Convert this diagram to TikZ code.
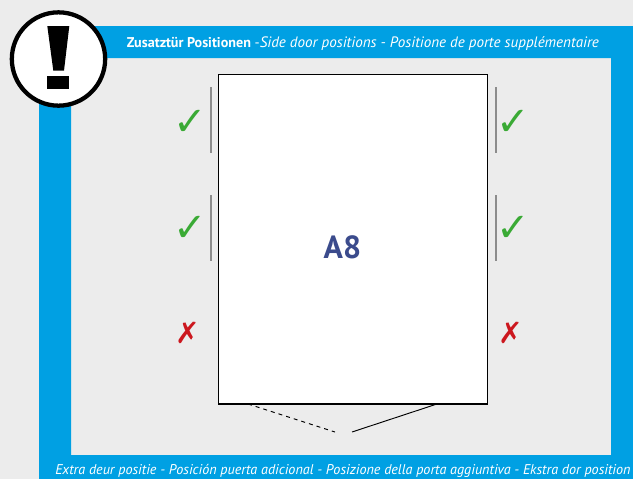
\documentclass[tikz,border=0pt]{standalone}
\usepackage{fontspec}
\setmainfont{PT Sans}
\newfontfamily\symfont{DejaVu Sans}
\usetikzlibrary{positioning,calc}
\definecolor{pagegray}{RGB}{236,236,236}
\definecolor{framecyan}{RGB}{0,160,227}
\definecolor{okgreen}{RGB}{58,170,53}
\definecolor{nored}{RGB}{204,23,30}
\definecolor{typeblue}{RGB}{59,75,140}
\definecolor{barshade}{RGB}{140,140,140}
\tikzset{
  doorbox/.style = {rectangle, draw, fill = white, line width = 0.9pt,
                    minimum width = 201.5pt, minimum height = 247pt},
  typelabel/.style = {font = \fontsize{24}{26}\selectfont\bfseries, text = typeblue, inner sep = 0pt},
  band/.style = {font = \fontsize{10.6}{12}\selectfont, text = white, inner sep = 0pt},
  yes/.style = {font = \symfont\fontsize{30}{32}\selectfont, text = okgreen, inner sep = 0pt},
  nope/.style = {font = \symfont\fontsize{22}{24}\selectfont, text = nored, inner sep = 0pt},
  bar/.style = {draw = barshade, line width = 1.5pt},
  leaf/.style = {line width = 0.7pt}
}
\begin{document}
\begin{tikzpicture}[x=0.75pt,y=-0.75pt]
        \useasboundingbox (0,0) rectangle (633,479);
        \fill[pagegray] (0,0) rectangle (633,479);
        \fill[framecyan,even odd rule] (39,26) rectangle (633,479) (71,58) rectangle (611,455);
        % door
        \node[doorbox] (door) at (353,239.3) {};
        \node[typelabel] (type) at (342.5,247) {A8};
        % side positions
        \node[yes] (l1) at (190.5,123) {✓};
        \node[yes] (l2) at (190.5,229) {✓};
        \node[nope] (l3) at (188,333) {✗};
        \node[yes] (r1) at (513.5,123) {✓};
        \node[yes] (r2) at (513.5,229) {✓};
        \node[nope] (r3) at (511,333) {✗};
        \coordinate (la) at (211,87);
        \coordinate (lb) at (211,153);
        \coordinate (lc) at (211,195);
        \coordinate (ld) at (211,261);
        \coordinate (ra) at (495.5,87);
        \coordinate (rb) at (495.5,153);
        \coordinate (rc) at (495.5,195);
        \coordinate (rd) at (495.5,261);
        \draw[bar](la)--(lb);
        \draw[bar](lc)--(ld);
        \draw[bar](ra)--(rb);
        \draw[bar](rc)--(rd);
        % door leaves
        \coordinate (dl) at (248,404);
        \coordinate (de) at (335,432);
        \coordinate (sl) at (437,404);
        \coordinate (se) at (352,432);
        \draw[leaf,dashed](dl)--(de);
        \draw[leaf](sl)--(se);
        % captions
        \node[band,anchor=base west] (top) at (126.5,47) {\textbf{Zusatztür Positionen} -{\fontsize{11.3}{12}\selectfont\textit{Side door positions - Positione de porte supplémentaire}}};
        \node[band,anchor=base west] (bot) at (55,474) {\textit{Extra deur positie - Posición puerta adicional - Posizione della porta aggiuntiva - Ekstra dor position}};
        % warning sign
        \node[circle,draw=black,fill=white,line width=3.2pt,minimum size=70pt,inner sep=0pt] (sign) at (58.5,59) {};
        \fill (47.3,26) -- (69.3,26) -- (64,70.7) -- (53.3,70.7) -- cycle;
        \fill (47.3,76) rectangle (69.3,88.7);
      \end{tikzpicture}
\end{document}
